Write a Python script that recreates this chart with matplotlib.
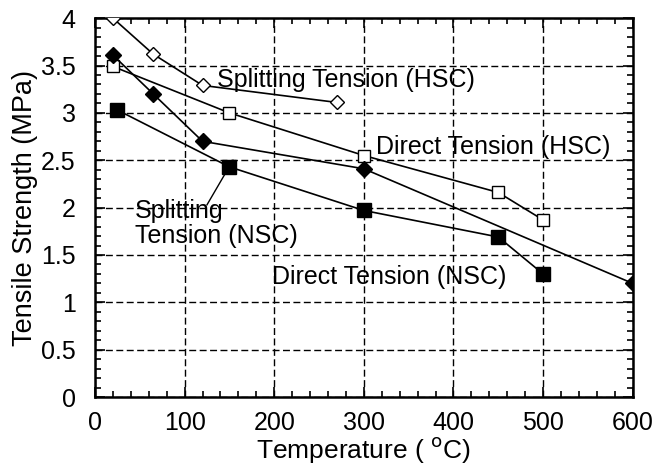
import matplotlib
matplotlib.use("Agg")
import matplotlib.pyplot as plt
from matplotlib.ticker import MultipleLocator

plt.rcParams['font.family'] = ['Liberation Sans', 'DejaVu Sans']

# Data
split_hsc_t = [20, 65, 120, 270]
split_hsc_v = [4.0, 3.62, 3.29, 3.11]
direct_hsc_t = [20, 150, 300, 450, 500]
direct_hsc_v = [3.49, 3.0, 2.55, 2.16, 1.87]
split_nsc_t = [20, 65, 120, 300, 600]
split_nsc_v = [3.61, 3.2, 2.7, 2.41, 1.2]
direct_nsc_t = [25, 150, 300, 450, 500]
direct_nsc_v = [3.03, 2.43, 1.97, 1.69, 1.3]

xticks = [0, 100, 200, 300, 400, 500, 600]
yticks = [0, 0.5, 1, 1.5, 2, 2.5, 3, 3.5, 4]
ytick_labels = ['0', '0.5', '1', '1.5', '2', '2.5', '3', '3.5', '4']

fig = plt.figure(figsize=(6.55, 4.65), dpi=100)
ax = fig.add_axes([0.145, 0.146, 0.821, 0.815])

lw = 1.2
ax.plot(split_hsc_t, split_hsc_v, '-', color='black', lw=lw, marker='D',
        markersize=7.5, markerfacecolor='white', markeredgecolor='black', markeredgewidth=1.0, zorder=5)
ax.plot(direct_hsc_t, direct_hsc_v, '-', color='black', lw=lw, marker='s',
        markersize=8, markerfacecolor='white', markeredgecolor='black', markeredgewidth=1.0, zorder=5)
ax.plot(split_nsc_t, split_nsc_v, '-', color='black', lw=lw, marker='D',
        markersize=8, markerfacecolor='black', markeredgecolor='black', zorder=5)
ax.plot(direct_nsc_t, direct_nsc_v, '-', color='black', lw=lw, marker='s',
        markersize=9.5, markerfacecolor='black', markeredgecolor='black', zorder=5)

ax.set_xlim(0, 600)
ax.set_ylim(0, 4)
ax.set_xticks(xticks)
ax.set_yticks(yticks)
ax.set_yticklabels(ytick_labels)
ax.xaxis.set_minor_locator(MultipleLocator(20))
ax.yaxis.set_minor_locator(MultipleLocator(0.1))
ax.tick_params(which='both', direction='in', top=True, right=True, width=1.2, labelsize=18)
ax.tick_params(which='major', length=7)
ax.tick_params(axis='y', which='major', pad=14)
ax.tick_params(axis='x', which='major', pad=10)
ax.tick_params(which='minor', length=4)
for s in ax.spines.values():
    s.set_linewidth(1.8)

ax.grid(True, which='major', color='black', linestyle=(0, (5, 2.5)), linewidth=1.0)
ax.set_axisbelow(True)

ax.set_xlabel('Temperature ( $^{\\mathrm{o}}$C)', fontsize=19, labelpad=0)
ax.set_ylabel('Tensile Strength (MPa)', fontsize=19.5, labelpad=2)

fs = 18
ax.text(136, 3.35, 'Splitting Tension (HSC)', fontsize=fs, va='center', ha='left')
ax.text(314, 2.64, 'Direct Tension (HSC)', fontsize=fs, va='center', ha='left')
ax.text(45, 1.83, 'Splitting\nTension (NSC)', fontsize=fs, va='center', ha='left', linespacing=1.05)
ax.text(198, 1.27, 'Direct Tension (NSC)', fontsize=fs, va='center', ha='left')
ax.plot([125, 154], [2.03, 2.5], color='black', lw=1.0)

fig.savefig('out.png', dpi=100)
